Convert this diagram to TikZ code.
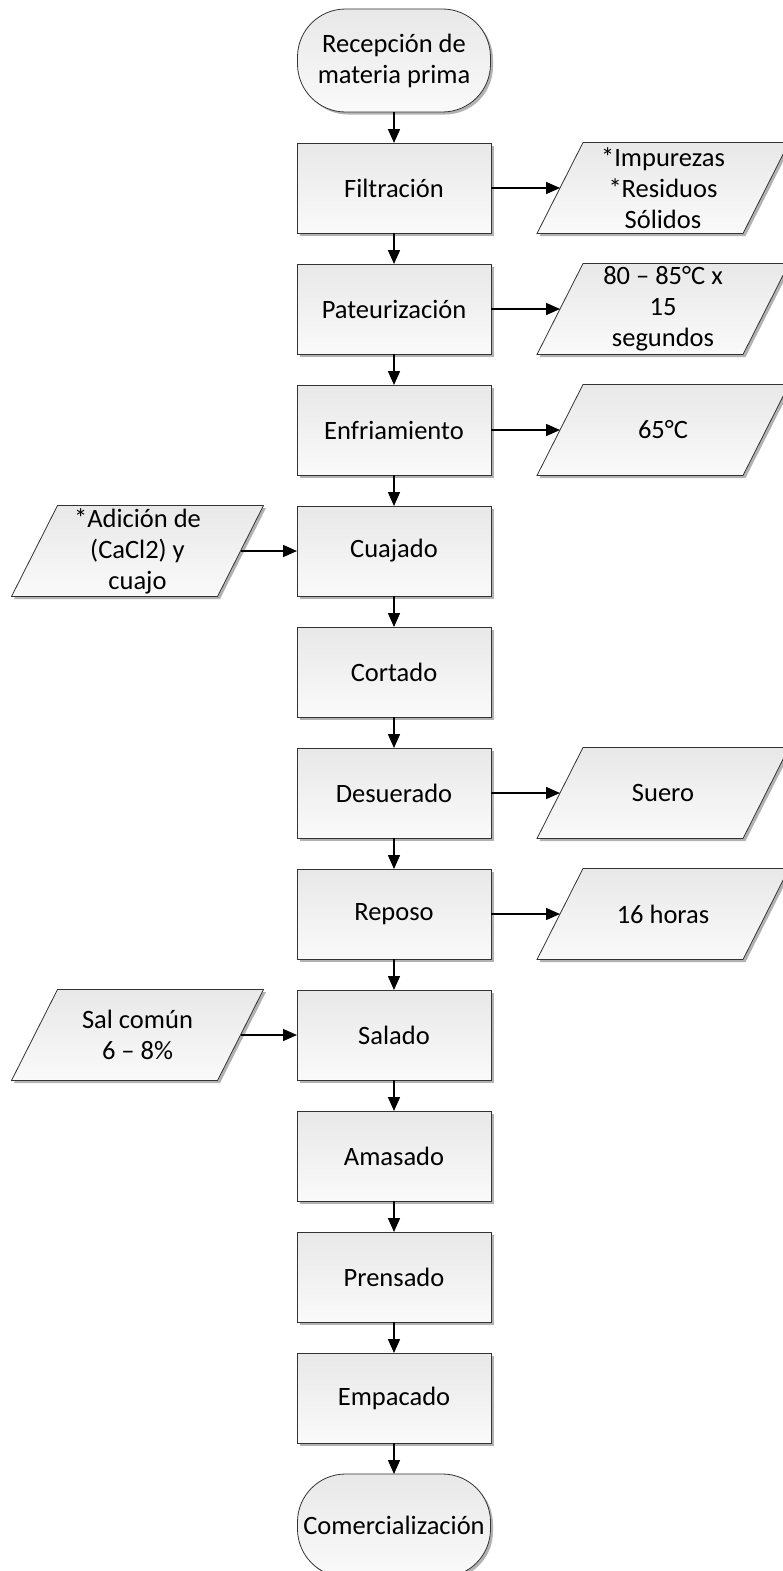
\documentclass[tikz,border=0pt]{standalone}
\usepackage{fontspec}
\setmainfont{Carlito}
\usetikzlibrary{shadows,arrows.meta,positioning,calc,backgrounds}

\tikzset{
  skin/.style={draw=black!80, line width=0.8pt, top color=black!9, bottom color=black!2,
    drop shadow={shadow xshift=2.5pt, shadow yshift=-2.5pt, opacity=0.3, fill=black}},
  label text/.style={font=\fontsize{26.5}{31}\selectfont, align=center, inner sep=0pt, outer sep=0pt},
  procbox/.style={skin, label text, rectangle, minimum width=194pt, minimum height=90pt},
  termbox/.style={skin, label text, rectangle, rounded corners=48pt, minimum width=193pt, minimum height=103pt},
  % text holder of a data box: as wide as one edge of the parallelogram,
  % so that west/east fall on the middle of its slanted sides
  iobox/.style={label text, rectangle, minimum width=206pt, minimum height=91pt},
  flow/.style={line width=1.5pt, -{Triangle[length=14pt,width=12pt]}},
}
% slant of the data parallelograms (half of the horizontal offset)
\def\halfslant{23}

\begin{document}
\begin{tikzpicture}[x=1pt, y=-1pt, node distance=31pt]
\useasboundingbox (0,0) rectangle (783,1571);

% main process column
\node[termbox] (t0) at (394,60.5) {Recepción de\\materia prima};
\node[procbox, below=of t0] (s1) {Filtración};
\node[procbox, below=of s1] (s2) {Pateurización};
\node[procbox, below=of s2] (s3) {Enfriamiento};
\node[procbox, below=of s3] (s4) {Cuajado};
\node[procbox, below=of s4] (s5) {Cortado};
\node[procbox, below=of s5] (s6) {Desuerado};
\node[procbox, below=of s6] (s7) {Reposo};
\node[procbox, below=of s7] (s8) {Salado};
\node[procbox, below=of s8] (s9) {Amasado};
\node[procbox, below=of s9] (s10) {Prensado};
\node[procbox, below=of s10] (s11) {Empacado};
\node[termbox, below=of s11] (t1) {Comercialización};

% outputs on the right
\node[iobox, right=69pt of s1] (o1) {*Impurezas\\*Residuos\\Sólidos};
\node[iobox, right=69pt of s2] (o2) {80 – 85°C x\\15\\segundos};
\node[iobox, right=69pt of s3] (o3) {65°C};
\node[iobox, right=69pt of s6] (o6) {Suero};
\node[iobox, right=69pt of s7] (o7) {16 horas};

% inputs on the left
\node[iobox, left=56.5pt of s4] (i4) {*Adición de\\(CaCl2) y\\cuajo};
\node[iobox, left=56.5pt of s8] (i8) {Sal común\\6 – 8\%};

% parallelogram outlines behind the data texts
\begin{scope}[on background layer]
  \foreach \n in {o1, o2, o3, o6, o7, i4, i8}
    \path[skin] ($(\n.south west)+(-\halfslant,0)$) -- ($(\n.south east)+(-\halfslant,0)$)
      -- ($(\n.north east)+(\halfslant,0)$) -- ($(\n.north west)+(\halfslant,0)$) -- cycle;
\end{scope}

% connectors
\draw[flow] (t0) -- (s1);
\foreach \a/\b in {s1/s2, s2/s3, s3/s4, s4/s5, s5/s6, s6/s7, s7/s8, s8/s9, s9/s10, s10/s11, s11/t1}
  \draw[flow] (\a) -- (\b);
\foreach \a/\b in {s1/o1, s2/o2, s3/o3, s6/o6, s7/o7}
  \draw[flow] (\a.east) -- (\b.west);
\foreach \a/\b in {i4/s4, i8/s8}
  \draw[flow] (\a.east) -- (\b.west);
\end{tikzpicture}
\end{document}
